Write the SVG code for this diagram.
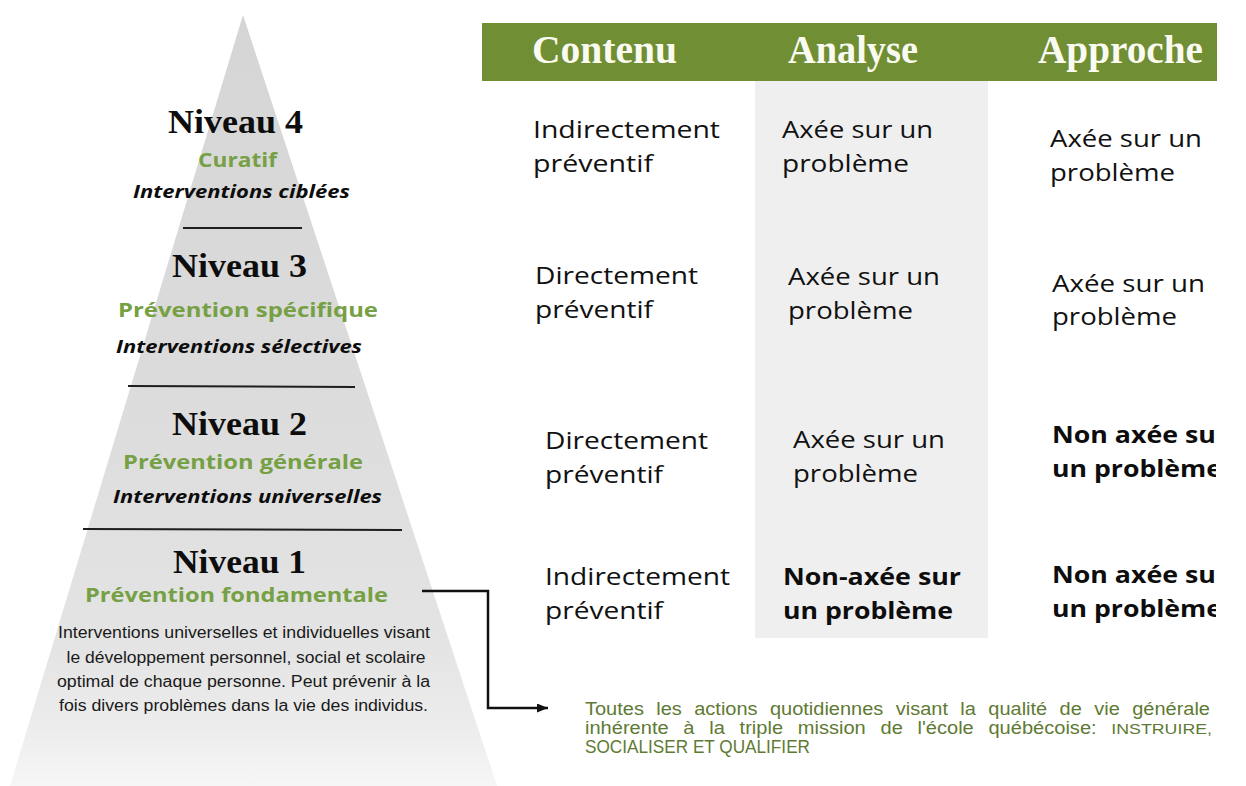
<svg xmlns="http://www.w3.org/2000/svg" width="1246" height="786" viewBox="0 0 1246 786">
<style>
.niv{font-family:"Liberation Serif",serif;font-weight:bold;font-size:34px;fill:#0d0d0d;text-anchor:middle}
.sub{font-family:"Open Sans","Liberation Sans",sans-serif;font-weight:bold;font-size:20px;fill:#76a044;text-anchor:middle}
.ital{font-family:"Open Sans","Liberation Sans",sans-serif;font-weight:bold;font-style:italic;font-size:18px;fill:#0d0d0d;text-anchor:middle}
.para{font-family:"Liberation Sans",Arial,sans-serif;font-size:16px;fill:#1a1a1a;text-anchor:middle}
.sep{stroke:#1e1e1e;stroke-width:2}
.hdr{font-family:"Liberation Serif",serif;font-weight:bold;font-size:39px;fill:#fafaf0}
.c{font-family:"Open Sans","Liberation Sans",sans-serif;font-size:24px;fill:#111111}
.cb{font-family:"Open Sans","Liberation Sans",sans-serif;font-weight:bold;font-size:24px;fill:#0d0d0d}
.note{font-family:"Liberation Sans",Arial,sans-serif;font-size:17.5px;fill:#5e7a33}
.conn{fill:none;stroke:#111;stroke-width:2.5}
</style>
<defs>
<linearGradient id="pyr" gradientUnits="userSpaceOnUse" x1="0" y1="15" x2="0" y2="786">
<stop offset="0" stop-color="#d5d5d5"/>
<stop offset="0.5" stop-color="#dcdcdc"/>
<stop offset="0.82" stop-color="#e4e4e4"/>
<stop offset="0.92" stop-color="#ececec"/>
<stop offset="1" stop-color="#f6f6f6"/>
</linearGradient>
<clipPath id="clipR"><rect x="0" y="0" width="1216" height="786"/></clipPath>
<marker id="arr" markerUnits="userSpaceOnUse" markerWidth="11" markerHeight="9" refX="11" refY="4.5" orient="auto">
<path d="M0,0 L11,4.5 L0,9 z" fill="#111"/>
</marker>
</defs>
<rect width="1246" height="786" fill="#ffffff"/>

<g id="pyramid">
<polygon points="243,15 497,786 10,786" fill="url(#pyr)"/>
<line class="sep" x1="183" y1="228" x2="302" y2="228"/>
<line class="sep" x1="128" y1="386" x2="355" y2="387"/>
<line class="sep" x1="83" y1="529" x2="402" y2="530"/>
</g>

<g id="niveau4">
<text class="niv" x="235.5" y="133" textLength="135" lengthAdjust="spacingAndGlyphs">Niveau 4</text>
<text class="sub" x="237.5" y="167" textLength="79" lengthAdjust="spacingAndGlyphs">Curatif</text>
<text class="ital" x="241.5" y="198" textLength="217" lengthAdjust="spacingAndGlyphs">Interventions ciblées</text>
</g>
<g id="niveau3">
<text class="niv" x="239.5" y="277" textLength="135" lengthAdjust="spacingAndGlyphs">Niveau 3</text>
<text class="sub" x="248" y="317" textLength="260" lengthAdjust="spacingAndGlyphs">Prévention spécifique</text>
<text class="ital" x="239" y="353" textLength="246" lengthAdjust="spacingAndGlyphs">Interventions sélectives</text>
</g>
<g id="niveau2">
<text class="niv" x="239.5" y="435" textLength="135" lengthAdjust="spacingAndGlyphs">Niveau 2</text>
<text class="sub" x="243" y="469" textLength="240" lengthAdjust="spacingAndGlyphs">Prévention générale</text>
<text class="ital" x="247.5" y="503" textLength="269" lengthAdjust="spacingAndGlyphs">Interventions universelles</text>
</g>
<g id="niveau1">
<text class="niv" x="239.5" y="573" textLength="133" lengthAdjust="spacingAndGlyphs">Niveau 1</text>
<text class="sub" x="236.5" y="602" textLength="303" lengthAdjust="spacingAndGlyphs">Prévention fondamentale</text>
<text class="para" x="244" y="638" textLength="372" lengthAdjust="spacingAndGlyphs">Interventions universelles et individuelles visant</text>
<text class="para" x="246" y="663" textLength="359" lengthAdjust="spacingAndGlyphs">le développement personnel, social et scolaire</text>
<text class="para" x="243.5" y="687" textLength="373" lengthAdjust="spacingAndGlyphs">optimal de chaque personne. Peut prévenir à la</text>
<text class="para" x="243.5" y="711" textLength="369" lengthAdjust="spacingAndGlyphs">fois divers problèmes dans la vie des individus.</text>
</g>

<g id="header">
<rect x="482" y="23" width="735" height="58" fill="#708e34"/>
<text class="hdr" x="532" y="63" textLength="145" lengthAdjust="spacingAndGlyphs">Contenu</text>
<text class="hdr" x="788" y="63" textLength="130" lengthAdjust="spacingAndGlyphs">Analyse</text>
<text class="hdr" x="1038" y="63" textLength="165" lengthAdjust="spacingAndGlyphs">Approche</text>
</g>

<g id="analyse-column">
<rect x="755" y="81" width="233" height="557" fill="#efefef"/>
</g>

<g id="contenu-cells">
<text class="c" x="533" y="138" textLength="187" lengthAdjust="spacingAndGlyphs">Indirectement</text>
<text class="c" x="533" y="172" textLength="120" lengthAdjust="spacingAndGlyphs">préventif</text>
<text class="c" x="535" y="284" textLength="163" lengthAdjust="spacingAndGlyphs">Directement</text>
<text class="c" x="535" y="318" textLength="118" lengthAdjust="spacingAndGlyphs">préventif</text>
<text class="c" x="545" y="449" textLength="163" lengthAdjust="spacingAndGlyphs">Directement</text>
<text class="c" x="545" y="483" textLength="118" lengthAdjust="spacingAndGlyphs">préventif</text>
<text class="c" x="545" y="585" textLength="185" lengthAdjust="spacingAndGlyphs">Indirectement</text>
<text class="c" x="545" y="619" textLength="118" lengthAdjust="spacingAndGlyphs">préventif</text>
</g>

<g id="analyse-cells">
<text class="c" x="782" y="138" textLength="151" lengthAdjust="spacingAndGlyphs">Axée sur un</text>
<text class="c" x="782" y="172" textLength="127" lengthAdjust="spacingAndGlyphs">problème</text>
<text class="c" x="788" y="285" textLength="152" lengthAdjust="spacingAndGlyphs">Axée sur un</text>
<text class="c" x="788" y="319" textLength="125" lengthAdjust="spacingAndGlyphs">problème</text>
<text class="c" x="793" y="448" textLength="152" lengthAdjust="spacingAndGlyphs">Axée sur un</text>
<text class="c" x="793" y="482" textLength="125" lengthAdjust="spacingAndGlyphs">problème</text>
<text class="cb" x="783" y="585" textLength="178" lengthAdjust="spacingAndGlyphs">Non-axée sur</text>
<text class="cb" x="783" y="619" textLength="170" lengthAdjust="spacingAndGlyphs">un problème</text>
</g>

<g id="approche-cells" clip-path="url(#clipR)">
<text class="c" x="1050" y="147" textLength="152" lengthAdjust="spacingAndGlyphs">Axée sur un</text>
<text class="c" x="1050" y="181" textLength="125" lengthAdjust="spacingAndGlyphs">problème</text>
<text class="c" x="1052" y="292" textLength="153" lengthAdjust="spacingAndGlyphs">Axée sur un</text>
<text class="c" x="1052" y="325" textLength="125" lengthAdjust="spacingAndGlyphs">problème</text>
<text class="cb" x="1052" y="443" textLength="176" lengthAdjust="spacingAndGlyphs">Non axée sur</text>
<text class="cb" x="1052" y="477" textLength="170" lengthAdjust="spacingAndGlyphs">un problème</text>
<text class="cb" x="1052" y="583" textLength="176" lengthAdjust="spacingAndGlyphs">Non axée sur</text>
<text class="cb" x="1052" y="617" textLength="170" lengthAdjust="spacingAndGlyphs">un problème</text>
</g>

<g id="connectors">
<polyline class="conn" points="422,591 488,591 488,708 548,708" marker-end="url(#arr)"/>
</g>

<g id="note">
<text class="note" x="585" y="715" word-spacing="6" textLength="625" lengthAdjust="spacingAndGlyphs">Toutes les actions quotidiennes visant la qualité de vie générale</text>
<text class="note" x="585" y="734" word-spacing="8" textLength="627" lengthAdjust="spacingAndGlyphs">inhérente à la triple mission de l'école québécoise: <tspan font-size="15.5">INSTRUIRE,</tspan></text>
<text class="note" x="585" y="753" font-size="15.5" textLength="225" lengthAdjust="spacingAndGlyphs">SOCIALISER ET QUALIFIER</text>
</g>
</svg>
